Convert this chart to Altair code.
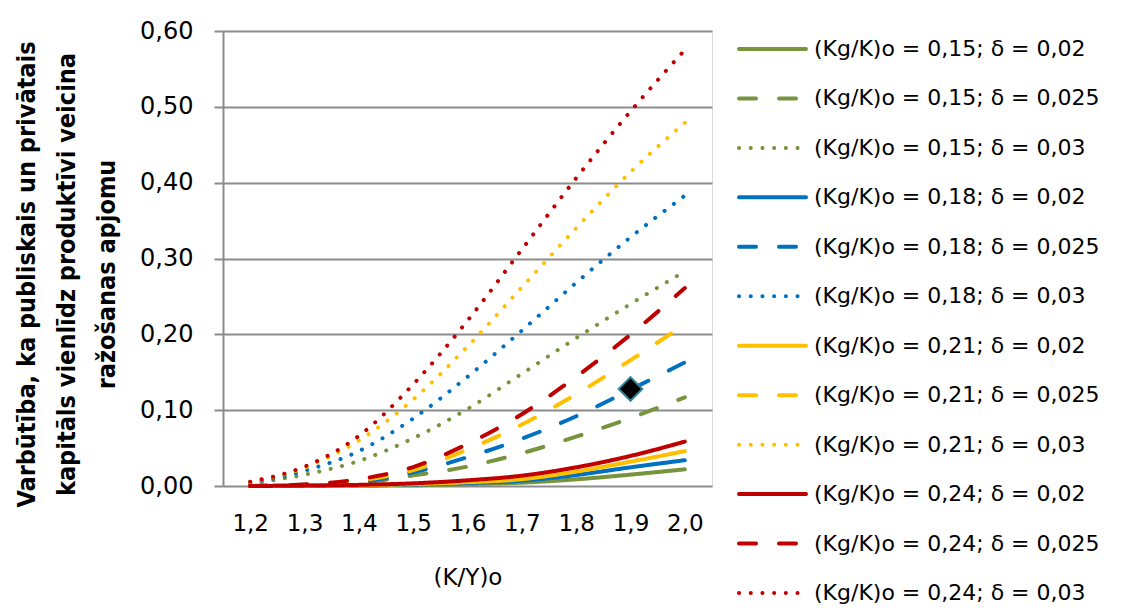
import altair as alt
import pandas as pd

x_labels = ["1,2", "1,3", "1,4", "1,5", "1,6", "1,7", "1,8", "1,9", "2,0"]

series_names = [
    "(Kg/K)o = 0,15; δ = 0,02",
    "(Kg/K)o = 0,15; δ = 0,025",
    "(Kg/K)o = 0,15; δ = 0,03",
    "(Kg/K)o = 0,18; δ = 0,02",
    "(Kg/K)o = 0,18; δ = 0,025",
    "(Kg/K)o = 0,18; δ = 0,03",
    "(Kg/K)o = 0,21; δ = 0,02",
    "(Kg/K)o = 0,21; δ = 0,025",
    "(Kg/K)o = 0,21; δ = 0,03",
    "(Kg/K)o = 0,24; δ = 0,02",
    "(Kg/K)o = 0,24; δ = 0,025",
    "(Kg/K)o = 0,24; δ = 0,03",
]

g_020 = [0.0, 0.0003, 0.0007, 0.0010, 0.0025, 0.0044, 0.0088, 0.0150, 0.0220]
g_025 = [0.0, 0.0010, 0.0040, 0.0140, 0.0256, 0.0433, 0.0650, 0.0896, 0.1170]
g_030 = [0.0030, 0.0150, 0.0330, 0.0630, 0.1015, 0.1480, 0.1950, 0.2400, 0.2830]
b_020 = [0.0, 0.0004, 0.0008, 0.0020, 0.0040, 0.0070, 0.0145, 0.0246, 0.0340]
b_025 = [0.0, 0.0015, 0.0050, 0.0180, 0.0380, 0.0624, 0.0920, 0.1270, 0.1630]
b_030 = [0.0040, 0.0200, 0.0460, 0.0890, 0.1440, 0.2050, 0.2680, 0.3280, 0.3830]
y_020 = [0.0, 0.0004, 0.0010, 0.0025, 0.0050, 0.0090, 0.0190, 0.0320, 0.0460]
y_025 = [0.0, 0.0017, 0.0070, 0.0210, 0.0480, 0.0810, 0.1210, 0.1660, 0.2130]
y_030 = [0.0050, 0.0240, 0.0600, 0.1140, 0.1840, 0.2620, 0.3400, 0.4140, 0.4790]
r_020 = [0.0, 0.0005, 0.0015, 0.0035, 0.0075, 0.0136, 0.0246, 0.0396, 0.0585]
r_025 = [0.0, 0.0020, 0.0090, 0.0250, 0.0555, 0.0947, 0.1440, 0.1996, 0.2610]
r_030 = [0.0057, 0.0255, 0.0660, 0.1340, 0.2180, 0.3120, 0.4060, 0.4940, 0.5750]

all_values = [g_020, g_025, g_030, b_020, b_025, b_030,
              y_020, y_025, y_030, r_020, r_025, r_030]

marker_x = ["1,9"]
marker_y = [0.128]

GREEN, BLUE, YELLOW, RED = "#77933C", "#0070C0", "#FFC000", "#C00000"
colors = [GREEN, GREEN, GREEN, BLUE, BLUE, BLUE, YELLOW, YELLOW, YELLOW, RED, RED, RED]
SOLID, DASH, DOT = [1, 0], [17, 23], [0.1, 11.6]
dashes = [SOLID, DASH, DOT] * 4

rows = []
for i, (name, vals) in enumerate(zip(series_names, all_values)):
    for xl, v in zip(x_labels, vals):
        rows.append({"series": name, "x": xl, "y": v, "ord": i})
df = pd.DataFrame(rows)
mdf = pd.DataFrame({"x": marker_x, "y": marker_y})

leg_rows = []
for i, name in enumerate(series_names):
    leg_rows.append({"series": name, "lx": 0, "ord": i})
    leg_rows.append({"series": name, "lx": 1, "ord": i})
ldf = pd.DataFrame(leg_rows)
tdf = pd.DataFrame({"series": series_names, "lx": [1] * len(series_names)})

FONT = "DejaVu Sans"
TITLE_FONT = "Liberation Sans Narrow, DejaVu Sans Condensed, Liberation Sans, sans-serif"
GRID = "#8C8C8C"

color_scale = alt.Scale(domain=series_names, range=colors)
dash_scale = alt.Scale(domain=series_names, range=dashes)

x_enc = alt.X(
    "x:O", sort=x_labels,
    scale=alt.Scale(type="point", padding=0.5, domain=x_labels),
    axis=alt.Axis(domain=False, ticks=False, grid=False, labelAngle=0,
                  labelFont=FONT, labelFontSize=23, labelColor="black",
                  labelPadding=26, titleFont=FONT, titleFontSize=23,
                  titleFontWeight="normal", titleColor="black",
                  titleY=91, titleBaseline="middle"),
    title="(K/Y)o",
)
y_enc = alt.Y(
    "y:Q",
    scale=alt.Scale(domain=[0, 0.6], nice=False, zero=True),
    axis=alt.Axis(values=[0, 0.1, 0.2, 0.3, 0.4, 0.5, 0.6],
                  labelExpr="replace(format(datum.value, '.2f'), '.', ',')",
                  grid=True, gridColor=GRID, gridWidth=2,
                  domainColor=GRID, domainWidth=2,
                  tickColor=GRID, tickWidth=2, tickSize=9,
                  labelPadding=21, labelFont=FONT, labelFontSize=24,
                  labelColor="black",
                  titleFont=TITLE_FONT, titleFontSize=25,
                  titleFontWeight="bold", titleColor="black",
                  titleLineHeight=40, titleAngle=270,
                  titleX=-197, titleY=243, titleAlign="center",
                  titleBaseline="middle"),
    title=["Varbūtība, ka publiskais un privātais",
           "kapitāls vienlīdz produktīvi veicina",
           "ražošanas apjomu"],
)

lines = alt.Chart(df).mark_line(
    strokeWidth=4, strokeCap="round", strokeJoin="round", interpolate="monotone"
).encode(
    x=x_enc,
    y=y_enc,
    color=alt.Color("series:N", sort=series_names, scale=color_scale, legend=None),
    strokeDash=alt.StrokeDash("series:N", sort=series_names, scale=dash_scale, legend=None),
    order=alt.Order("ord:Q"),
)

marker = alt.Chart(mdf).mark_point(
    shape="diamond", filled=True, fill="black", stroke="#31859C",
    strokeWidth=2, size=560, opacity=1
).encode(
    x=alt.X("x:O", sort=x_labels),
    y=alt.Y("y:Q"),
)

plot = alt.layer(lines, marker)

leg_x = alt.X("lx:Q", scale=alt.Scale(domain=[0, 1], range=[516, 583]), axis=None)
leg_y = alt.Y("series:N", sort=series_names,
              scale=alt.Scale(type="point", domain=series_names, range=[18, 562], padding=0),
              axis=None)

leg_lines = alt.Chart(ldf).mark_line(
    strokeWidth=4, strokeCap="round"
).encode(
    x=leg_x, y=leg_y,
    color=alt.Color("series:N", sort=series_names, scale=color_scale, legend=None),
    strokeDash=alt.StrokeDash("series:N", sort=series_names, scale=dash_scale, legend=None),
    detail="series:N",
)

leg_text = alt.Chart(tdf).mark_text(
    align="left", baseline="middle", dx=8, font=FONT, fontSize=22, color="black"
).encode(
    x=leg_x, y=leg_y, text="series:N",
)

legend_layer = alt.layer(leg_lines, leg_text)

chart = alt.layer(plot, legend_layer).resolve_scale(
    x="independent", y="independent"
).properties(
    width=489, height=455,
    autosize=alt.AutoSizeParams(type="none"),
    padding={"left": 215, "top": 23, "right": 403, "bottom": 118},
).configure_view(strokeWidth=0).configure(background="white")

chart.save("out.html", embed_options={"renderer": "svg", "actions": False})
